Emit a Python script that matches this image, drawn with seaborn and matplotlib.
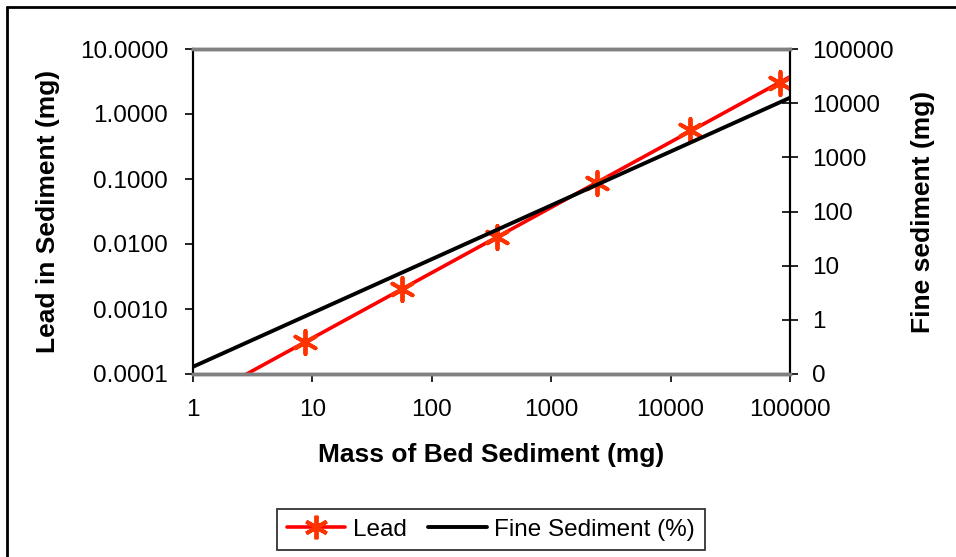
import numpy as np
import pandas as pd
import matplotlib
matplotlib.use("Agg")
import matplotlib.pyplot as plt
import seaborn as sns
from matplotlib.lines import Line2D
from matplotlib.ticker import FixedLocator, FixedFormatter, NullLocator

# ---- data ----
bed_mass = [8.7, 56, 350, 2430, 14500, 82500]          # mg
lead_mg = [0.000314, 0.00201, 0.0127, 0.0859, 0.567, 3.03]
fine_bed_mass = [1, 100000]                             # mg
fine_sediment = [0.136, 12600]                          # mg

x_ticks = [1, 10, 100, 1000, 10000, 100000]
x_labels = ["1", "10", "100", "1000", "10000", "100000"]
left_ticks = [0.0001, 0.001, 0.01, 0.1, 1, 10]
left_labels = ["0.0001", "0.0010", "0.0100", "0.1000", "1.0000", "10.0000"]
right_ticks = [0.1, 1, 10, 100, 1000, 10000, 100000]
right_labels = ["0", "1", "10", "100", "1000", "10000", "100000"]

sns.set_theme(style="white")
plt.rcParams["font.family"] = ["Liberation Sans", "DejaVu Sans"]
plt.rcParams["text.color"] = "black"
plt.rcParams["axes.labelcolor"] = "black"
plt.rcParams["xtick.color"] = "black"
plt.rcParams["ytick.color"] = "black"
plt.rcParams["xtick.labelcolor"] = "black"
plt.rcParams["ytick.labelcolor"] = "black"

fig = plt.figure(figsize=(9.56, 5.57), dpi=100)
ax = fig.add_axes([193 / 956, 1 - 374 / 557, (790 - 193) / 956, (374 - 49) / 557])
ax2 = ax.twinx()

lead_df = pd.DataFrame({"mass": bed_mass, "lead": lead_mg})
fine_df = pd.DataFrame({"mass": fine_bed_mass, "fine": fine_sediment})

# power trendline for lead
b, a = np.polyfit(np.log10(bed_mass), np.log10(lead_mg), 1)
trend_x = np.array([1, 100000], dtype=float)
trend_df = pd.DataFrame({"mass": trend_x, "lead": 10 ** (a + b * np.log10(trend_x))})

ax.set_xscale("log")
ax.set_yscale("log")
ax2.set_yscale("log")

sns.lineplot(data=trend_df, x="mass", y="lead", ax=ax, color="#ff0000", lw=2.6, zorder=2)
sns.scatterplot(data=lead_df, x="mass", y="lead", ax=ax, marker=(6, 2, 0), s=280,
                color="#ff3300", linewidth=2.8, edgecolor="#ff3300", zorder=3)
sns.lineplot(data=fine_df, x="mass", y="fine", ax=ax2, color="black", lw=2.8, zorder=2)

ax.set_xlim(1, 100000)
ax.set_ylim(0.0001, 10)
ax2.set_ylim(0.1, 100000)

ax.xaxis.set_major_locator(FixedLocator(x_ticks))
ax.xaxis.set_major_formatter(FixedFormatter(x_labels))
ax.xaxis.set_minor_locator(NullLocator())
ax.yaxis.set_major_locator(FixedLocator(left_ticks))
ax.yaxis.set_major_formatter(FixedFormatter(left_labels))
ax.yaxis.set_minor_locator(NullLocator())
ax2.yaxis.set_major_locator(FixedLocator(right_ticks))
ax2.yaxis.set_major_formatter(FixedFormatter(right_labels))
ax2.yaxis.set_minor_locator(NullLocator())

tick_fs = 17.5
ax.tick_params(axis="x", direction="out", length=6, width=1.2, color="black",
               labelcolor="black", labelsize=tick_fs, pad=12, bottom=True)
ax.tick_params(axis="y", direction="out", length=6, width=1.2, color="black",
               labelcolor="black", labelsize=tick_fs, pad=12, left=True)
ax2.tick_params(axis="y", direction="inout", length=12, width=1.2, color="black",
                labelcolor="black", labelsize=tick_fs, pad=10, right=True)

for a_ in (ax, ax2):
    a_.spines["top"].set_color("#808080")
    a_.spines["bottom"].set_color("#808080")
    a_.spines["top"].set_linewidth(2.5)
    a_.spines["bottom"].set_linewidth(2.5)
    a_.spines["left"].set_color("black")
    a_.spines["right"].set_color("black")
    a_.spines["left"].set_linewidth(1.5)
    a_.spines["right"].set_linewidth(1.5)
    a_.grid(False)

lab_fs = 19
ax.set_xlabel("Mass of Bed Sediment (mg)", fontsize=lab_fs, fontweight="bold",
              labelpad=16, color="black")
ax.set_ylabel("Lead in Sediment (mg)", fontsize=lab_fs, fontweight="bold",
              labelpad=14, color="black")
ax2.set_ylabel("Fine sediment (mg)", fontsize=lab_fs, fontweight="bold",
               labelpad=12, color="black")

handles = [
    Line2D([], [], color="#ff0000", lw=2.6, marker=(6, 2, 0), markersize=17,
           markeredgecolor="#ff3300", markeredgewidth=2.8),
    Line2D([], [], color="black", lw=2.8),
]
leg = fig.legend(handles, ["Lead", "Fine Sediment (%)"], loc="center",
                 bbox_to_anchor=(491 / 956, 1 - 529.5 / 557), ncol=2, fontsize=17.5,
                 frameon=True, fancybox=False, edgecolor="black", handlelength=2.4,
                 handletextpad=0.3, columnspacing=0.9, borderpad=0.4)
leg.get_frame().set_linewidth(1.3)
for t in leg.get_texts():
    t.set_color("black")

# outer chart border (left and top visible)
fig.add_artist(Line2D([7 / 956, 7 / 956], [0, 1 - 7 / 557], color="black", lw=2,
                      transform=fig.transFigure))
fig.add_artist(Line2D([7 / 956, 1], [1 - 7 / 557, 1 - 7 / 557], color="black", lw=2,
                      transform=fig.transFigure))

fig.savefig("out.png", dpi=100)
